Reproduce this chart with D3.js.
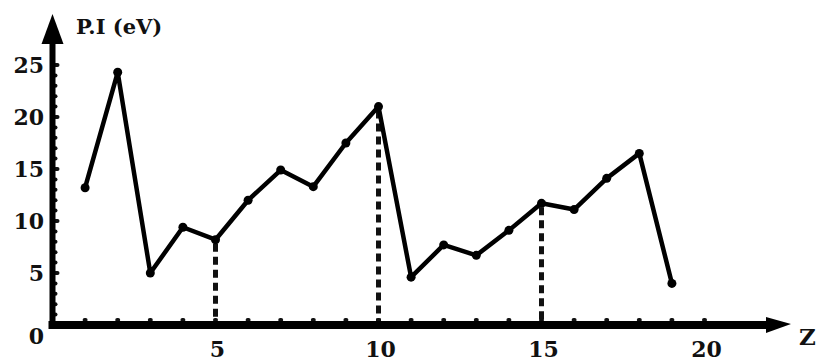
<!DOCTYPE html>
<html><head><meta charset="utf-8">
<script src="https://cdn.jsdelivr.net/npm/d3@7"></script>
<style>
html,body{margin:0;padding:0;background:#fff;}
text{font-family:"DejaVu Serif",serif;font-weight:bold;fill:#111;}
</style></head>
<body>
<svg id="c" width="817" height="361"></svg>
<script>
const atomicNumbers = [1,2,3,4,5,6,7,8,9,10,11,12,13,14,15,16,17,18,19];
const ionizationEV  = [13.2,24.3,5.0,9.4,8.2,12.0,14.9,13.3,17.5,21.0,4.6,7.7,6.7,9.1,11.7,11.1,14.1,16.5,4.0];
const dashedAt      = [5,10,15];
const xTickLabels   = [5,10,15,20];
const yTickLabels   = [0,5,10,15,20,25];
const yTitle = "P.I (eV)";
const xTitle = "Z";

const svg = d3.select("#c");
const x = d3.scaleLinear().domain([0,20]).range([52.5,704.5]);
const y = d3.scaleLinear().domain([0,25]).range([325,65]);

// small tick dots along x axis
svg.append("g").selectAll("rect").data(d3.range(1,21)).join("rect")
  .attr("x", d=>x(d)-2.5).attr("y", y(0)-7).attr("width",5).attr("height",4).attr("rx",2)
  .attr("fill","#111");
// small tick dots along y axis
svg.append("g").selectAll("rect").data(d3.range(1,26)).join("rect")
  .attr("x", x(0)+1).attr("y", d=>y(d)-2).attr("width", d=>d%5===0?6:4).attr("height",4).attr("rx",2)
  .attr("fill","#111");

// dashed drop lines
svg.append("g").selectAll("line").data(dashedAt).join("line")
  .attr("x1", d=>x(d)).attr("x2", d=>x(d))
  .attr("y1", d=>y(ionizationEV[atomicNumbers.indexOf(d)])+4).attr("y2", y(0))
  .attr("stroke","#111").attr("stroke-width",5).attr("stroke-dasharray","8,5");

// axes lines
svg.append("line").attr("x1", x(0)-4).attr("x2", 770).attr("y1", y(0)).attr("y2", y(0))
  .attr("stroke","#000").attr("stroke-width",8);
svg.append("path").attr("d", `M766,${y(0)-8} L791,${y(0)-1} L766,${y(0)+8} Z`).attr("fill","#000");
svg.append("line").attr("x1", x(0)).attr("x2", x(0)).attr("y1", y(0)).attr("y2", 38)
  .attr("stroke","#000").attr("stroke-width",6);
svg.append("path").attr("d", `M${x(0)-11},44 L${x(0)},14 L${x(0)+11},44 Z`).attr("fill","#000");

// data line
const line = d3.line().x((d,i)=>x(atomicNumbers[i])).y(d=>y(d));
svg.append("path").datum(ionizationEV).attr("d", line)
  .attr("fill","none").attr("stroke","#000").attr("stroke-width",4.5).attr("stroke-linejoin","round").attr("stroke-linecap","round");
svg.append("g").selectAll("circle").data(ionizationEV).join("circle")
  .attr("cx",(d,i)=>x(atomicNumbers[i])).attr("cy", d=>y(d)).attr("r",4.5).attr("fill","#000");

// y tick labels
svg.append("g").selectAll("text").data(yTickLabels).join("text")
  .attr("x", 44).attr("y", d=> d===0 ? y(d)+11 : y(d)).attr("dy","0.35em")
  .attr("text-anchor","end").attr("font-size",22).text(d=>d);
// x tick labels
svg.append("g").selectAll("text").data(xTickLabels).join("text")
  .attr("x", d=>x(d)+2).attr("y", 349).attr("dy","0.35em")
  .attr("text-anchor","middle").attr("font-size",22).text(d=>d);

svg.append("text").attr("x",76).attr("y",27).attr("dy","0.35em").attr("font-size",21).text(yTitle);
svg.append("text").attr("x",799).attr("y",337).attr("dy","0.35em").attr("font-size",23).text(xTitle);
</script>
</body></html>
